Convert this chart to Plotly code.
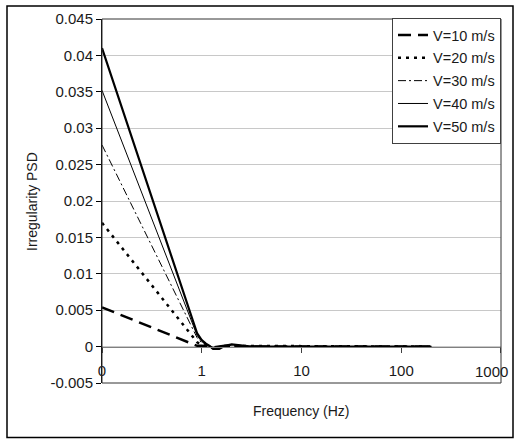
import math
import plotly.graph_objects as go

freq = [0.1, 0.9, 1.0, 1.1, 1.2, 1.3, 1.5, 1.7, 2.0, 2.5, 3.0, 5.0, 10, 20, 50, 100, 200]
v10 = [0.0054, 0.0001, 0.0001, 0.0, -0.0001, -0.0001, 0.0, 0.0001, 0.0001, 0.0, 0, 0, 0, 0, 0, 0, 0]
v20 = [0.0170, 0.0006, 0.0002, 0.0001, -0.0001, -0.0002, -0.0001, 0.0001, 0.0001, 0.0001, 0, 0, 0, 0, 0, 0, 0]
v30 = [0.0277, 0.0012, 0.0005, 0.0002, 0.0, -0.0002, -0.0002, 0.0001, 0.0002, 0.0001, 0.00003, 0, 0, 0, 0, 0, 0]
v40 = [0.0352, 0.0015, 0.0007, 0.0003, 0.0001, -0.0002, -0.0003, 0.0001, 0.0003, 0.0001, 0.00003, 0, 0, 0, 0, 0, 0]
v50 = [0.0410, 0.0018, 0.0009, 0.0004, 0.0001, -0.0003, -0.0003, 0.0001, 0.0003, 0.0002, 0.00005, 0, 0, 0, 0, 0, 0]

series_names = ["V=10 m/s", "V=20 m/s", "V=30 m/s", "V=40 m/s", "V=50 m/s"]
series_vals = [v10, v20, v30, v40, v50]
styles = [
    dict(width=2.5, dash="13px,7px"),
    dict(width=2.5, dash="3px,5px"),
    dict(width=1, dash="8px,3px,2px,3px"),
    dict(width=1, dash="solid"),
    dict(width=2.2, dash="solid"),
]

x_tickvals = [0.1, 1, 10, 100, 1000]
x_ticktext = ["0", "1", "10", "100", "1000"]
y_tickvals = [-0.005, 0, 0.005, 0.01, 0.015, 0.02, 0.025, 0.03, 0.035, 0.04, 0.045]
y_ticktext = ["-0.005", "0", "0.005", "0.01", "0.015", "0.02", "0.025", "0.03", "0.035", "0.04", "0.045"]

FONT = "Liberation Sans, Arial, sans-serif"

fig = go.Figure()
for i, (name, vals, st) in enumerate(zip(series_names, series_vals, styles)):
    fig.add_trace(go.Scatter(
        x=freq, y=vals, mode="lines", name=name, legendgroup=f"g{i}",
        line=dict(color="black", width=st["width"], dash=st["dash"]),
    ))

W, H = 516, 439
L, R, T, B = 102, 15, 19, 56
pw = W - L - R
ph = H - T - B

def px_to_paper_x(px):
    return (px - L) / pw

def py_to_paper_y(py):
    return (H - B - py) / ph

fig.update_layout(
    width=W, height=H,
    margin=dict(l=L, r=R, t=T, b=B, autoexpand=False),
    paper_bgcolor="white", plot_bgcolor="white",
    font=dict(family=FONT, size=15, color="#1a1a1a"),
    xaxis=dict(
        type="log", range=[-1, 3.0003],
        anchor="free", position=0.1,
        showgrid=False, zeroline=False,
        ticklabelstandoff=5,
        automargin=False,
        tickfont=dict(size=15),
        tickvals=x_tickvals, ticktext=x_ticktext[:-1] + [""],
        showline=True, linecolor="#808080", linewidth=1,
        ticks="outside", ticklen=5, tickcolor="#404040",
    ),
    yaxis=dict(
        range=[-0.005, 0.045],
        tickvals=y_tickvals, ticktext=y_ticktext,
        showline=True, linecolor="black", linewidth=1,
        ticks="outside", ticklen=5, tickcolor="black",
        showgrid=True, gridcolor="#c8c8c8", gridwidth=1,
        zeroline=False,
        automargin=False,
        tickfont=dict(size=15),
    ),
    showlegend=True,
    legend=dict(
        x=px_to_paper_x(392), y=py_to_paper_y(18),
        xanchor="left", yanchor="top",
        bgcolor="white", bordercolor="#404040", borderwidth=1,
        font=dict(size=14.5, color="#1a1a1a"),
        traceorder="grouped", tracegroupgap=1,
    ),
    shapes=[
        dict(type="rect", xref="paper", yref="paper", x0=0, x1=1, y0=0, y1=1,
             line=dict(color="#333333", width=1), layer="above"),
        dict(type="rect", xref="paper", yref="paper",
             x0=px_to_paper_x(7), x1=px_to_paper_x(513),
             y0=py_to_paper_y(437.5), y1=py_to_paper_y(6),
             line=dict(color="black", width=1.5), layer="below"),
    ],
    annotations=[
        dict(text=x_ticktext[-1], xref="x", yref="paper",
             x=math.log10(x_tickvals[-1]), y=py_to_paper_y(371),
             xanchor="center", yanchor="middle", xshift=-9, showarrow=False,
             font=dict(size=15)),
        dict(text="Frequency (Hz)", xref="paper", yref="paper",
             x=px_to_paper_x(301), y=py_to_paper_y(411),
             xanchor="center", yanchor="middle", showarrow=False,
             font=dict(size=14)),
        dict(text="Irregularity PSD", xref="paper", yref="paper",
             x=px_to_paper_x(32), y=py_to_paper_y(202),
             xanchor="center", yanchor="middle", showarrow=False,
             textangle=-90, font=dict(size=14)),
    ],
)

fig.write_html("out.html")
